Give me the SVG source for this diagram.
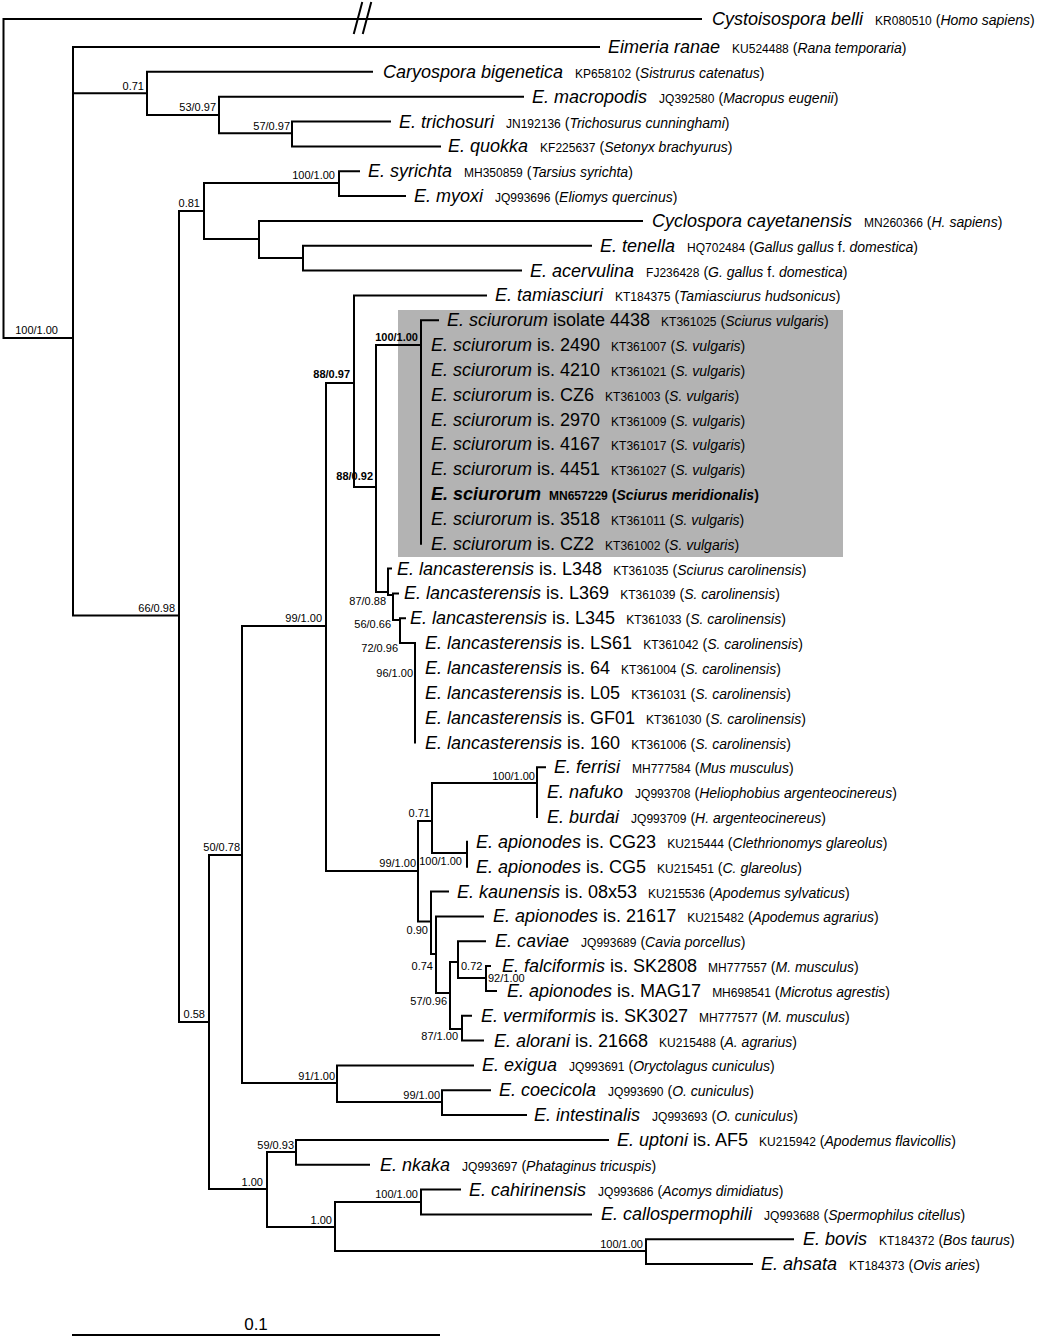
<svg xmlns="http://www.w3.org/2000/svg" width="1044" height="1339" viewBox="0 0 1044 1339">
<style>
text{font-family:"Liberation Sans",Arial,Helvetica,sans-serif;fill:#000}
.br{fill:none;stroke:#000;stroke-width:2;stroke-linecap:square}
.sp{font-size:18px;font-style:italic}
.is{font-size:18px;font-style:normal}
.ac{font-size:12px;font-style:normal}
.ho{font-size:14px;font-style:normal}
.hi{font-style:italic}
.bs{font-size:11px;text-anchor:end}
.bl{font-size:11px;text-anchor:start}
.bb{font-weight:bold}
</style>
<rect x="0" y="0" width="1044" height="1339" fill="#fff"/>
<rect id="highlight" x="398" y="310" width="445" height="247" fill="#b3b3b3"/>
<g id="connectors" class="br">
<path d="M3.5,19V338M3.5,19H701M3.5,338H73"/>
<path d="M354,33L362,3M363,33L371,3"/>
<path d="M73,47V615.6M73,47H599M73,93.3H147M73,615.6H179"/>
<path d="M147,71.8V115M147,71.8H372M147,115H219"/>
<path d="M219,96.7V133.3M219,96.7H523M219,133.3H292"/>
<path d="M292,121.5V146.4M292,121.5H390M292,146.4H440"/>
<path d="M179,211V1022M179,211H204M179,1022H209"/>
<path d="M204,183V239M204,183H339M204,239H259"/>
<path d="M339,171.2V196M339,171.2H359M339,196H405"/>
<path d="M259,220.9V258M259,220.9H642M259,258H303"/>
<path d="M303,245.7V270.6M303,245.7H591M303,270.6H521"/>
<path d="M209,855V1189M209,855H242M209,1189H267"/>
<path d="M242,626V1083M242,626H326M242,1083H337"/>
<path d="M326,383V871M326,383H354M326,871H418"/>
<path d="M354,295.4V487M354,295.4H486M354,487H376"/>
<path d="M376,345.1V592M376,345.1H421M376,592H388"/>
<path d="M421,320.2V543.8M421,320.2H438"/>
<path d="M388,568.6V595M388,568.6H391M388,595H393"/>
<path d="M393,593.4V620M393,593.4H398M393,620H400"/>
<path d="M400,618.3V643M400,618.3H405M400,643H415"/>
<path d="M415,643.1V742.5"/>
<path d="M418,821V921.5M418,821H432M418,921.5H431"/>
<path d="M432,783V853M432,783H537M432,853H467"/>
<path d="M537,767.3V817M537,767.3H545"/>
<path d="M467,841.8V866.7"/>
<path d="M431,891.5V954M431,891.5H448M431,954H436"/>
<path d="M436,916.4V993M436,916.4H483M436,993H450"/>
<path d="M450,962V1029M450,962H458M450,1029H462"/>
<path d="M458,941.2V978M458,941.2H485M458,978H486"/>
<path d="M486,966V990.9M486,966H490M486,990.9H496"/>
<path d="M462,1015.7V1040.6M462,1015.7H471M462,1040.6H483"/>
<path d="M337,1065.4V1102M337,1065.4H473M337,1102H442"/>
<path d="M442,1090.2V1115.1M442,1090.2H490M442,1115.1H526"/>
<path d="M267,1152V1227M267,1152H296M267,1227H335"/>
<path d="M296,1139.9V1164.8M296,1139.9H608M296,1164.8H369"/>
<path d="M335,1202V1251M335,1202H421M335,1251H646"/>
<path d="M421,1189.6V1214.4M421,1189.6H460M421,1214.4H591"/>
<path d="M646,1239.3V1264.1M646,1239.3H793M646,1264.1H752"/>
</g>
<g id="scale-bar">
<path class="br" d="M73,1335H439"/>
<text x="256" y="1330" font-size="17" text-anchor="middle">0.1</text>
</g>
<g id="leaf-01"><text x="712" y="25"><tspan class="sp">Cystoisospora belli</tspan><tspan class="ac" dx="12">KR080510</tspan><tspan class="ho" dx="4">(<tspan class="hi">Homo sapiens</tspan>)</tspan></text></g>
<g id="leaf-02"><text x="608" y="53"><tspan class="sp">Eimeria ranae</tspan><tspan class="ac" dx="12">KU524488</tspan><tspan class="ho" dx="4">(<tspan class="hi">Rana temporaria</tspan>)</tspan></text></g>
<g id="leaf-03"><text x="383" y="77.8"><tspan class="sp">Caryospora bigenetica</tspan><tspan class="ac" dx="12">KP658102</tspan><tspan class="ho" dx="4">(<tspan class="hi">Sistrurus catenatus</tspan>)</tspan></text></g>
<g id="leaf-04"><text x="532" y="102.7"><tspan class="sp">E. macropodis</tspan><tspan class="ac" dx="12">JQ392580</tspan><tspan class="ho" dx="4">(<tspan class="hi">Macropus eugenii</tspan>)</tspan></text></g>
<g id="leaf-05"><text x="399" y="127.5"><tspan class="sp">E. trichosuri</tspan><tspan class="ac" dx="12">JN192136</tspan><tspan class="ho" dx="4">(<tspan class="hi">Trichosurus cunninghami</tspan>)</tspan></text></g>
<g id="leaf-06"><text x="448" y="152.4"><tspan class="sp">E. quokka</tspan><tspan class="ac" dx="12">KF225637</tspan><tspan class="ho" dx="4">(<tspan class="hi">Setonyx brachyurus</tspan>)</tspan></text></g>
<g id="leaf-07"><text x="368" y="177.2"><tspan class="sp">E. syrichta</tspan><tspan class="ac" dx="12">MH350859</tspan><tspan class="ho" dx="4">(<tspan class="hi">Tarsius syrichta</tspan>)</tspan></text></g>
<g id="leaf-08"><text x="414" y="202"><tspan class="sp">E. myoxi</tspan><tspan class="ac" dx="12">JQ993696</tspan><tspan class="ho" dx="4">(<tspan class="hi">Eliomys quercinus</tspan>)</tspan></text></g>
<g id="leaf-09"><text x="652" y="226.9"><tspan class="sp">Cyclospora cayetanensis</tspan><tspan class="ac" dx="12">MN260366</tspan><tspan class="ho" dx="4">(<tspan class="hi">H. sapiens</tspan>)</tspan></text></g>
<g id="leaf-10"><text x="600" y="251.7"><tspan class="sp">E. tenella</tspan><tspan class="ac" dx="12">HQ702484</tspan><tspan class="ho" dx="4">(<tspan class="hi">Gallus gallus</tspan> f. <tspan class="hi">domestica</tspan>)</tspan></text></g>
<g id="leaf-11"><text x="530" y="276.6"><tspan class="sp">E. acervulina</tspan><tspan class="ac" dx="12">FJ236428</tspan><tspan class="ho" dx="4">(<tspan class="hi">G. gallus</tspan> f. <tspan class="hi">domestica</tspan>)</tspan></text></g>
<g id="leaf-12"><text x="495" y="301.4"><tspan class="sp">E. tamiasciuri</tspan><tspan class="ac" dx="12">KT184375</tspan><tspan class="ho" dx="4">(<tspan class="hi">Tamiasciurus hudsonicus</tspan>)</tspan></text></g>
<g id="leaf-13"><text x="447" y="326.2"><tspan class="sp">E. sciurorum</tspan><tspan class="is"> isolate 4438</tspan><tspan class="ac" dx="11">KT361025</tspan><tspan class="ho" dx="4">(<tspan class="hi">Sciurus vulgaris</tspan>)</tspan></text></g>
<g id="leaf-14"><text x="431" y="351.1"><tspan class="sp">E. sciurorum</tspan><tspan class="is"> is. 2490</tspan><tspan class="ac" dx="11">KT361007</tspan><tspan class="ho" dx="4">(<tspan class="hi">S. vulgaris</tspan>)</tspan></text></g>
<g id="leaf-15"><text x="431" y="375.9"><tspan class="sp">E. sciurorum</tspan><tspan class="is"> is. 4210</tspan><tspan class="ac" dx="11">KT361021</tspan><tspan class="ho" dx="4">(<tspan class="hi">S. vulgaris</tspan>)</tspan></text></g>
<g id="leaf-16"><text x="431" y="400.8"><tspan class="sp">E. sciurorum</tspan><tspan class="is"> is. CZ6</tspan><tspan class="ac" dx="11">KT361003</tspan><tspan class="ho" dx="4">(<tspan class="hi">S. vulgaris</tspan>)</tspan></text></g>
<g id="leaf-17"><text x="431" y="425.6"><tspan class="sp">E. sciurorum</tspan><tspan class="is"> is. 2970</tspan><tspan class="ac" dx="11">KT361009</tspan><tspan class="ho" dx="4">(<tspan class="hi">S. vulgaris</tspan>)</tspan></text></g>
<g id="leaf-18"><text x="431" y="450.4"><tspan class="sp">E. sciurorum</tspan><tspan class="is"> is. 4167</tspan><tspan class="ac" dx="11">KT361017</tspan><tspan class="ho" dx="4">(<tspan class="hi">S. vulgaris</tspan>)</tspan></text></g>
<g id="leaf-19"><text x="431" y="475.3"><tspan class="sp">E. sciurorum</tspan><tspan class="is"> is. 4451</tspan><tspan class="ac" dx="11">KT361027</tspan><tspan class="ho" dx="4">(<tspan class="hi">S. vulgaris</tspan>)</tspan></text></g>
<g id="leaf-20"><text x="431" y="500.1" font-weight="bold"><tspan class="sp">E. sciurorum</tspan><tspan class="ac" dx="8">MN657229</tspan><tspan class="ho" dx="4">(<tspan class="hi">Sciurus meridionalis</tspan>)</tspan></text></g>
<g id="leaf-21"><text x="431" y="525"><tspan class="sp">E. sciurorum</tspan><tspan class="is"> is. 3518</tspan><tspan class="ac" dx="11">KT361011</tspan><tspan class="ho" dx="4">(<tspan class="hi">S. vulgaris</tspan>)</tspan></text></g>
<g id="leaf-22"><text x="431" y="549.8"><tspan class="sp">E. sciurorum</tspan><tspan class="is"> is. CZ2</tspan><tspan class="ac" dx="11">KT361002</tspan><tspan class="ho" dx="4">(<tspan class="hi">S. vulgaris</tspan>)</tspan></text></g>
<g id="leaf-23"><text x="397" y="574.6"><tspan class="sp">E. lancasterensis</tspan><tspan class="is"> is. L348</tspan><tspan class="ac" dx="11">KT361035</tspan><tspan class="ho" dx="4">(<tspan class="hi">Sciurus carolinensis</tspan>)</tspan></text></g>
<g id="leaf-24"><text x="404" y="599.4"><tspan class="sp">E. lancasterensis</tspan><tspan class="is"> is. L369</tspan><tspan class="ac" dx="11">KT361039</tspan><tspan class="ho" dx="4">(<tspan class="hi">S. carolinensis</tspan>)</tspan></text></g>
<g id="leaf-25"><text x="410" y="624.3"><tspan class="sp">E. lancasterensis</tspan><tspan class="is"> is. L345</tspan><tspan class="ac" dx="11">KT361033</tspan><tspan class="ho" dx="4">(<tspan class="hi">S. carolinensis</tspan>)</tspan></text></g>
<g id="leaf-26"><text x="425" y="649.1"><tspan class="sp">E. lancasterensis</tspan><tspan class="is"> is. LS61</tspan><tspan class="ac" dx="11">KT361042</tspan><tspan class="ho" dx="4">(<tspan class="hi">S. carolinensis</tspan>)</tspan></text></g>
<g id="leaf-27"><text x="425" y="674"><tspan class="sp">E. lancasterensis</tspan><tspan class="is"> is. 64</tspan><tspan class="ac" dx="11">KT361004</tspan><tspan class="ho" dx="4">(<tspan class="hi">S. carolinensis</tspan>)</tspan></text></g>
<g id="leaf-28"><text x="425" y="698.8"><tspan class="sp">E. lancasterensis</tspan><tspan class="is"> is. L05</tspan><tspan class="ac" dx="11">KT361031</tspan><tspan class="ho" dx="4">(<tspan class="hi">S. carolinensis</tspan>)</tspan></text></g>
<g id="leaf-29"><text x="425" y="723.6"><tspan class="sp">E. lancasterensis</tspan><tspan class="is"> is. GF01</tspan><tspan class="ac" dx="11">KT361030</tspan><tspan class="ho" dx="4">(<tspan class="hi">S. carolinensis</tspan>)</tspan></text></g>
<g id="leaf-30"><text x="425" y="748.5"><tspan class="sp">E. lancasterensis</tspan><tspan class="is"> is. 160</tspan><tspan class="ac" dx="11">KT361006</tspan><tspan class="ho" dx="4">(<tspan class="hi">S. carolinensis</tspan>)</tspan></text></g>
<g id="leaf-31"><text x="554" y="773.3"><tspan class="sp">E. ferrisi</tspan><tspan class="ac" dx="12">MH777584</tspan><tspan class="ho" dx="4">(<tspan class="hi">Mus musculus</tspan>)</tspan></text></g>
<g id="leaf-32"><text x="547" y="798.2"><tspan class="sp">E. nafuko</tspan><tspan class="ac" dx="12">JQ993708</tspan><tspan class="ho" dx="4">(<tspan class="hi">Heliophobius argenteocinereus</tspan>)</tspan></text></g>
<g id="leaf-33"><text x="547" y="823"><tspan class="sp">E. burdai</tspan><tspan class="ac" dx="12">JQ993709</tspan><tspan class="ho" dx="4">(<tspan class="hi">H. argenteocinereus</tspan>)</tspan></text></g>
<g id="leaf-34"><text x="476" y="847.8"><tspan class="sp">E. apionodes</tspan><tspan class="is"> is. CG23</tspan><tspan class="ac" dx="11">KU215444</tspan><tspan class="ho" dx="4">(<tspan class="hi">Clethrionomys glareolus</tspan>)</tspan></text></g>
<g id="leaf-35"><text x="476" y="872.7"><tspan class="sp">E. apionodes</tspan><tspan class="is"> is. CG5</tspan><tspan class="ac" dx="11">KU215451</tspan><tspan class="ho" dx="4">(<tspan class="hi">C. glareolus</tspan>)</tspan></text></g>
<g id="leaf-36"><text x="457" y="897.5"><tspan class="sp">E. kaunensis</tspan><tspan class="is"> is. 08x53</tspan><tspan class="ac" dx="11">KU215536</tspan><tspan class="ho" dx="4">(<tspan class="hi">Apodemus sylvaticus</tspan>)</tspan></text></g>
<g id="leaf-37"><text x="493" y="922.4"><tspan class="sp">E. apionodes</tspan><tspan class="is"> is. 21617</tspan><tspan class="ac" dx="11">KU215482</tspan><tspan class="ho" dx="4">(<tspan class="hi">Apodemus agrarius</tspan>)</tspan></text></g>
<g id="leaf-38"><text x="495" y="947.2"><tspan class="sp">E. caviae</tspan><tspan class="ac" dx="12">JQ993689</tspan><tspan class="ho" dx="4">(<tspan class="hi">Cavia porcellus</tspan>)</tspan></text></g>
<g id="leaf-39"><text x="502" y="972"><tspan class="sp">E. falciformis</tspan><tspan class="is"> is. SK2808</tspan><tspan class="ac" dx="11">MH777557</tspan><tspan class="ho" dx="4">(<tspan class="hi">M. musculus</tspan>)</tspan></text></g>
<g id="leaf-40"><text x="507" y="996.9"><tspan class="sp">E. apionodes</tspan><tspan class="is"> is. MAG17</tspan><tspan class="ac" dx="11">MH698541</tspan><tspan class="ho" dx="4">(<tspan class="hi">Microtus agrestis</tspan>)</tspan></text></g>
<g id="leaf-41"><text x="481" y="1021.7"><tspan class="sp">E. vermiformis</tspan><tspan class="is"> is. SK3027</tspan><tspan class="ac" dx="11">MH777577</tspan><tspan class="ho" dx="4">(<tspan class="hi">M. musculus</tspan>)</tspan></text></g>
<g id="leaf-42"><text x="494" y="1046.6"><tspan class="sp">E. alorani</tspan><tspan class="is"> is. 21668</tspan><tspan class="ac" dx="11">KU215488</tspan><tspan class="ho" dx="4">(<tspan class="hi">A. agrarius</tspan>)</tspan></text></g>
<g id="leaf-43"><text x="482" y="1071.4"><tspan class="sp">E. exigua</tspan><tspan class="ac" dx="12">JQ993691</tspan><tspan class="ho" dx="4">(<tspan class="hi">Oryctolagus cuniculus</tspan>)</tspan></text></g>
<g id="leaf-44"><text x="499" y="1096.2"><tspan class="sp">E. coecicola</tspan><tspan class="ac" dx="12">JQ993690</tspan><tspan class="ho" dx="4">(<tspan class="hi">O. cuniculus</tspan>)</tspan></text></g>
<g id="leaf-45"><text x="534" y="1121.1"><tspan class="sp">E. intestinalis</tspan><tspan class="ac" dx="12">JQ993693</tspan><tspan class="ho" dx="4">(<tspan class="hi">O. cuniculus</tspan>)</tspan></text></g>
<g id="leaf-46"><text x="617" y="1145.9"><tspan class="sp">E. uptoni</tspan><tspan class="is"> is. AF5</tspan><tspan class="ac" dx="11">KU215942</tspan><tspan class="ho" dx="4">(<tspan class="hi">Apodemus flavicollis</tspan>)</tspan></text></g>
<g id="leaf-47"><text x="380" y="1170.8"><tspan class="sp">E. nkaka</tspan><tspan class="ac" dx="12">JQ993697</tspan><tspan class="ho" dx="4">(<tspan class="hi">Phataginus tricuspis</tspan>)</tspan></text></g>
<g id="leaf-48"><text x="469" y="1195.6"><tspan class="sp">E. cahirinensis</tspan><tspan class="ac" dx="12">JQ993686</tspan><tspan class="ho" dx="4">(<tspan class="hi">Acomys dimidiatus</tspan>)</tspan></text></g>
<g id="leaf-49"><text x="601" y="1220.4"><tspan class="sp">E. callospermophili</tspan><tspan class="ac" dx="12">JQ993688</tspan><tspan class="ho" dx="4">(<tspan class="hi">Spermophilus citellus</tspan>)</tspan></text></g>
<g id="leaf-50"><text x="803" y="1245.3"><tspan class="sp">E. bovis</tspan><tspan class="ac" dx="12">KT184372</tspan><tspan class="ho" dx="4">(<tspan class="hi">Bos taurus</tspan>)</tspan></text></g>
<g id="leaf-51"><text x="761" y="1270.1"><tspan class="sp">E. ahsata</tspan><tspan class="ac" dx="12">KT184373</tspan><tspan class="ho" dx="4">(<tspan class="hi">Ovis aries</tspan>)</tspan></text></g>
<g id="node-root"><text class="bs" x="58" y="334">100/1.00</text></g>
<g id="node-071a"><text class="bs" x="144" y="90">0.71</text></g>
<g id="node-5397"><text class="bs" x="216" y="111">53/0.97</text></g>
<g id="node-5797"><text class="bs" x="290" y="130">57/0.97</text></g>
<g id="node-syr"><text class="bs" x="335" y="179">100/1.00</text></g>
<g id="node-081"><text class="bs" x="200" y="207">0.81</text></g>
<g id="node-6698"><text class="bs" x="175" y="612">66/0.98</text></g>
<g id="node-8897"><text class="bs bb" x="350" y="378">88/0.97</text></g>
<g id="node-sciur"><text class="bs bb" x="418" y="341">100/1.00</text></g>
<g id="node-8892"><text class="bs bb" x="373" y="480">88/0.92</text></g>
<g id="node-8788"><text class="bs" x="386" y="605">87/0.88</text></g>
<g id="node-5666"><text class="bs" x="391" y="628">56/0.66</text></g>
<g id="node-7296"><text class="bs" x="398" y="652">72/0.96</text></g>
<g id="node-96100"><text class="bs" x="413" y="677">96/1.00</text></g>
<g id="node-99100a"><text class="bs" x="322" y="622">99/1.00</text></g>
<g id="node-5078"><text class="bs" x="240" y="851">50/0.78</text></g>
<g id="node-058"><text class="bs" x="205" y="1018">0.58</text></g>
<g id="node-071b"><text class="bs" x="430" y="817">0.71</text></g>
<g id="node-ferrisi"><text class="bs" x="535" y="780">100/1.00</text></g>
<g id="node-cg"><text class="bs" x="462" y="865">100/1.00</text></g>
<g id="node-99100b"><text class="bs" x="416" y="867">99/1.00</text></g>
<g id="node-090"><text class="bs" x="428" y="934">0.90</text></g>
<g id="node-074"><text class="bs" x="433" y="970">0.74</text></g>
<g id="node-5796"><text class="bs" x="447" y="1005">57/0.96</text></g>
<g id="node-072"><text class="bl" x="461" y="970">0.72</text></g>
<g id="node-92100"><text class="bl" x="488" y="982" font-size="10.5">92/1.00</text></g>
<g id="node-87100"><text class="bs" x="458" y="1040">87/1.00</text></g>
<g id="node-91100"><text class="bs" x="335" y="1080">91/1.00</text></g>
<g id="node-99100c"><text class="bs" x="440" y="1099">99/1.00</text></g>
<g id="node-5993"><text class="bs" x="294" y="1149">59/0.93</text></g>
<g id="node-100a"><text class="bs" x="263" y="1186">1.00</text></g>
<g id="node-100b"><text class="bs" x="332" y="1224">1.00</text></g>
<g id="node-cah"><text class="bs" x="418" y="1198">100/1.00</text></g>
<g id="node-bovis"><text class="bs" x="643" y="1248">100/1.00</text></g>
</svg>
